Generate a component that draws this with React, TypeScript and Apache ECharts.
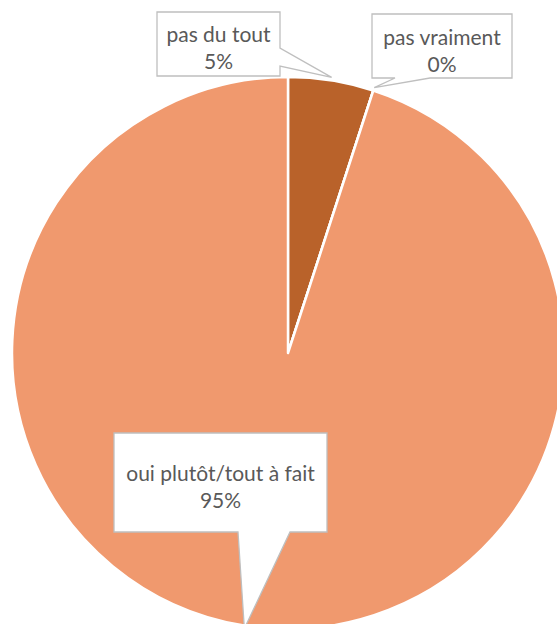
import React, { useEffect, useRef } from 'react';
import * as echarts from 'echarts';

const categories = ['pas du tout', 'pas vraiment', 'oui plutôt/tout à fait'];
const values = [5, 0, 95];
const sliceColors = ['#B9622A', '#E07B3C', '#F0996E'];

// Callout layout (annotation boxes): box [left, top, right, bottom], wedge base side and span, text line centers
type Callout = { box: number[]; side: 'right' | 'bottom'; base: number[]; textX: number; textY: number };
const callouts: Callout[] = [
  { box: [157, 12, 280, 76], side: 'right', base: [48, 66], textX: 218.5, textY: 46.5 },
  { box: [372, 14, 512, 78], side: 'bottom', base: [430, 395], textX: 442, textY: 50 },
  { box: [114, 433, 327, 532], side: 'bottom', base: [290, 238], textX: 220.5, textY: 485.5 },
];

const FONT_FAMILY = 'Lato, "Liberation Sans", sans-serif';

export default function App() {
  const ref = useRef<HTMLDivElement>(null);
  useEffect(() => {
    if (!ref.current) return;
    const chart = echarts.init(ref.current, undefined, { renderer: 'svg' });
    chart.setOption({
      animation: false,
      backgroundColor: '#ffffff',
      series: [
        {
          type: 'pie',
          center: [288, 353],
          radius: 276,
          startAngle: 90,
          clockwise: true,
          avoidLabelOverlap: false,
          label: { show: false },
          labelLine: { show: false },
          emphasis: { disabled: true },
          itemStyle: { borderColor: '#ffffff', borderWidth: 2.5 },
          data: categories.map((name, i) => ({
            name,
            value: values[i],
            itemStyle: { color: sliceColors[i] },
          })),
        },
      ],
    });

    const total = values.reduce((a, b) => a + b, 0);
    const data = (chart as any).getModel().getSeriesByIndex(0).getData();
    const graphics: any[] = [];
    callouts.forEach((c, i) => {
      const lay = data.getItemLayout(i);
      const mid = (lay.startAngle + lay.endAngle) / 2;
      const rr = lay.r + 3;
      const tip = [lay.cx + rr * Math.cos(mid), lay.cy + rr * Math.sin(mid)];
      const [l, t, r, b] = c.box;
      let pts: number[][];
      if (c.side === 'right') {
        pts = [[l, t], [r, t], [r, c.base[0]], tip, [r, c.base[1]], [r, b], [l, b]];
      } else {
        pts = [[l, t], [r, t], [r, b], [c.base[0], b], tip, [c.base[1], b], [l, b]];
      }
      graphics.push({
        type: 'polygon',
        z: 10,
        shape: { points: pts },
        style: { fill: '#ffffff', stroke: '#BFBFBF', lineWidth: 1.3 },
        silent: true,
      });
      const pct = Math.round((values[i] / total) * 100);
      graphics.push({
        type: 'text',
        z: 11,
        x: c.textX,
        y: c.textY,
        style: {
          text: categories[i] + '\n' + pct + '%',
          fill: '#595959',
          font: '21px ' + FONT_FAMILY,
          lineHeight: 27,
          align: 'center',
          verticalAlign: 'middle',
        },
        silent: true,
      });
    });
    chart.setOption({ graphic: graphics });

    return () => chart.dispose();
  }, []);
  return (
    <div
      ref={ref}
      style={{ position: 'fixed', left: 0, top: 0, width: 557, height: 624 }}
    />
  );
}
